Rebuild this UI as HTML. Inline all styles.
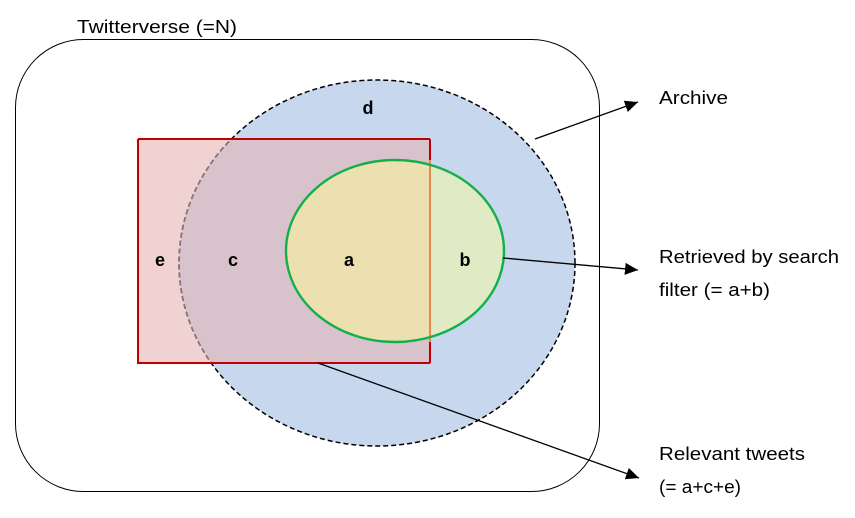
<!DOCTYPE html>
<html><head><meta charset="utf-8"><style>
html,body{margin:0;padding:0;background:#fff;}
svg{display:block;}
text{font-family:"Liberation Sans",sans-serif;}
</style></head><body>
<svg width="855" height="518" viewBox="0 0 855 518" xmlns="http://www.w3.org/2000/svg">
<defs>
<clipPath id="cr"><rect x="138" y="139" width="292" height="224"/></clipPath>
<clipPath id="cb"><ellipse cx="377" cy="263" rx="198" ry="183"/></clipPath>
<marker id="ar" markerWidth="14" markerHeight="14" refX="13" refY="6" orient="auto" markerUnits="userSpaceOnUse">
<path d="M0,0 L13,6 L0,12 z" fill="#000"/></marker>
</defs>
<rect x="15.5" y="39.5" width="584" height="452" rx="68" ry="68" fill="#fff" stroke="#000" stroke-width="1"/>
<text x="77" y="33" font-size="18" textLength="160" lengthAdjust="spacingAndGlyphs">Twitterverse (=N)</text>
<ellipse cx="377" cy="263" rx="198" ry="183" fill="#c6d7ee"/>
<rect x="138" y="139" width="292" height="224" fill="#f0d2d2"/>
<g clip-path="url(#cb)"><rect x="138" y="139" width="292" height="224" fill="#d8c3cd"/></g>
<ellipse cx="377" cy="263" rx="198" ry="183" fill="none" stroke="#000" stroke-width="1.5" stroke-dasharray="5,3"/>
<g clip-path="url(#cr)"><ellipse cx="377" cy="263" rx="198" ry="183" fill="none" stroke="#8a7a80" stroke-width="1.5" stroke-dasharray="5,3"/></g>
<ellipse cx="395" cy="251" rx="109" ry="91" fill="#e0ebc5"/>
<g clip-path="url(#cr)"><ellipse cx="395" cy="251" rx="109" ry="91" fill="#ece0b0"/></g>
<line x1="430" y1="160" x2="430" y2="342" stroke="#e8884a" stroke-width="2"/>
<ellipse cx="395" cy="251" rx="109" ry="91" fill="none" stroke="#12b04a" stroke-width="2.4"/>
<path d="M138,139 H430 M138,139 V363 H430 M430,139 V160 M430,342 V363" fill="none" stroke="#c00000" stroke-width="2"/>
<g font-size="18" font-weight="bold">
<text x="368" y="114" text-anchor="middle">d</text>
<text x="160" y="266" text-anchor="middle">e</text>
<text x="233" y="266" text-anchor="middle">c</text>
<text x="349" y="266" text-anchor="middle">a</text>
<text x="465" y="266" text-anchor="middle">b</text>
</g>
<line x1="535" y1="139" x2="638" y2="102" stroke="#000" stroke-width="1.3" marker-end="url(#ar)"/>
<line x1="503" y1="258" x2="638" y2="270" stroke="#000" stroke-width="1.3" marker-end="url(#ar)"/>
<line x1="318" y1="363" x2="639" y2="478" stroke="#000" stroke-width="1.3" marker-end="url(#ar)"/>
<g font-size="18">
<text x="659" y="104" textLength="69" lengthAdjust="spacingAndGlyphs">Archive</text>
<text x="659" y="263" textLength="180" lengthAdjust="spacingAndGlyphs">Retrieved by search</text>
<text x="659" y="296" textLength="111" lengthAdjust="spacingAndGlyphs">filter (= a+b)</text>
<text x="659" y="460" textLength="146" lengthAdjust="spacingAndGlyphs">Relevant tweets</text>
<text x="659" y="493" textLength="82" lengthAdjust="spacingAndGlyphs">(= a+c+e)</text>
</g>
</svg>
</body></html>
